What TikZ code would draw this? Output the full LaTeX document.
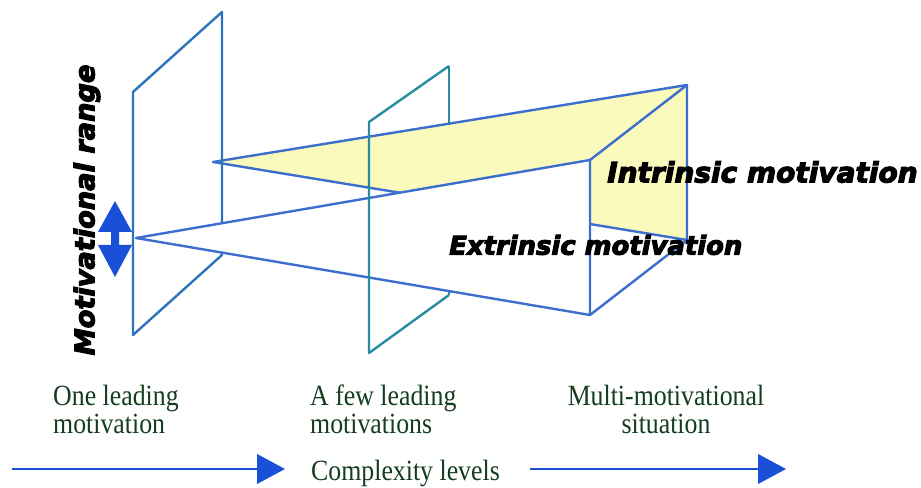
\documentclass[tikz,border=0pt]{standalone}
\usepackage{fontspec}
\usepackage{pdfrender}
\setmainfont{Liberation Serif}
\newfontfamily\heavy{DejaVu Sans}[BoldItalicFeatures={FakeBold=4}]
\usetikzlibrary{arrows.meta}
\definecolor{planeL}{RGB}{45,115,190}
\definecolor{planeM}{RGB}{40,140,160}
\definecolor{wedge}{RGB}{60,110,205}
\definecolor{arrblue}{RGB}{25,80,215}
\definecolor{yel}{RGB}{250,250,188}
\definecolor{txtgreen}{RGB}{20,60,30}
\definecolor{shadowgreen}{RGB}{30,70,40}
\newcommand{\heavyword}[1]{\textpdfrender{TextRenderingMode=FillStroke,LineWidth=1.7pt,StrokeColor=shadowgreen,FillColor=black}{#1}}
\tikzset{
  edgeL/.style={draw=planeL, line width=1.8pt, line join=round},
  edgeM/.style={draw=planeM, line width=1.8pt, line join=round},
  wedgeline/.style={draw=wedge, line width=1.8pt, line join=round},
  label/.style={font=\fontsize{22}{21}\selectfont, text=txtgreen, align=left, inner sep=0pt, xscale=0.88},
  heavytxt/.style={text=black, inner sep=0pt},
  levelarrow/.style={draw=arrblue, line width=2.2pt, -{Triangle[length=21pt,width=22pt]}},
}
\begin{document}
\begin{tikzpicture}[x=0.75pt,y=-0.75pt]
\useasboundingbox (0,0) rectangle (921,488);
% middle plane back edge (hidden behind the wedges)
\coordinate (mFT) at (369,122);
\coordinate (mFB) at (369,353);
\coordinate (mBT) at (449,66);
\coordinate (mBB) at (449,295);
\draw[edgeM] (mBT) -- (mBB);
% intrinsic wedge
\coordinate (iA) at (213,162);
\coordinate (iT) at (687,85);
\coordinate (iB) at (687,240);
\draw[wedgeline, fill=yel] (iA) -- (iT) -- (iB) -- cycle;
% left plane
\coordinate (lFT) at (133,92);
\coordinate (lFB) at (133,335);
\coordinate (lBT) at (222,12);
\coordinate (lBB) at (222,255);
\draw[edgeL] (lFT) -- (lBT) -- (lBB) -- (lFB) -- cycle;
% extrinsic wedge
\coordinate (eA) at (136,238);
\coordinate (eT) at (590,160);
\coordinate (eB) at (590,315);
\draw[wedgeline, fill=white] (eA) -- (eT) -- (eB) -- cycle;
% box edges
\draw[wedgeline] (eT) -- (iT);
\draw[wedgeline] (eB) -- (iB);
% middle plane front edges
\draw[edgeM] (mBT) -- (mFT) -- (mFB) -- (mBB);
% double arrow (motivational range)
\fill[arrblue] (115,201) -- (132,232) -- (119,232) -- (119,245) -- (132,245) -- (115,277) -- (98,245) -- (111,245) -- (111,232) -- (98,232) -- cycle;
% heavy texts
\node[heavytxt, font=\heavy\bfseries\itshape\fontsize{21}{20}\selectfont, anchor=west] (intr) at (607,172) {\heavyword{Intrinsic motivation}};
\node[heavytxt, font=\heavy\bfseries\itshape\fontsize{19.4}{20}\selectfont, anchor=west] (extr) at (449,245) {\heavyword{Extrinsic motivation}};
\node[heavytxt, font=\heavy\bfseries\itshape\fontsize{20.4}{20}\selectfont, rotate=90] (range) at (87,210) {\heavyword{Motivational range}};
% bottom labels
\node[label, anchor=north west] (one) at (53,385) {One leading\\motivation};
\node[label, anchor=north west] (few) at (310,385) {A few leading\\motivations};
\node[label, anchor=north, align=center] (multi) at (666,385) {Multi-motivational\\situation};
\node[label, anchor=north west] (cplx) at (311,460) {Complexity levels};
\coordinate (a1s) at (12,469);
\coordinate (a1e) at (285,469);
\coordinate (a2s) at (530,469);
\coordinate (a2e) at (786,469);
\draw[levelarrow] (a1s) -- (a1e);
\draw[levelarrow] (a2s) -- (a2e);
\end{tikzpicture}
\end{document}
